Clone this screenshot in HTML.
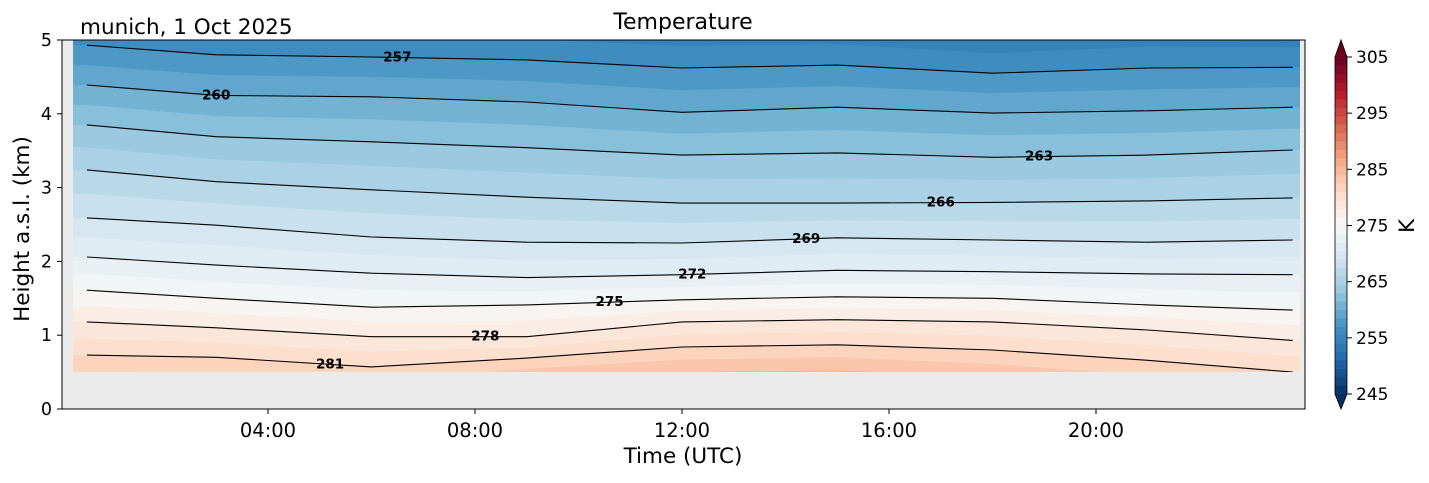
<!DOCTYPE html>
<html><head><meta charset="utf-8"><style>
body{margin:0;background:#fff;}
svg text{font-family:"DejaVu Sans","Liberation Sans",sans-serif;}
</style></head><body>
<svg id="chart" width="1429" height="478" xmlns="http://www.w3.org/2000/svg">
<defs><clipPath id="dclip"><rect x="73" y="40" width="1227" height="332"/></clipPath></defs>
<rect x="62" y="40" width="1243" height="369" fill="#ebebeb"/>
<g id="fills" clip-path="url(#dclip)"></g>
<g id="lines" clip-path="url(#dclip)"></g>
<g id="clabels"></g>
<rect x="62" y="40" width="1243" height="369" fill="none" stroke="#000" stroke-width="1"/>
<g id="axes"></g>
<text x="683" y="29" font-size="22" text-anchor="middle">Temperature</text>
<text x="80" y="34" font-size="21.5">munich, 1 Oct 2025</text>
<text x="683" y="463" font-size="21.5" text-anchor="middle">Time (UTC)</text>
<text x="0" y="0" font-size="21.5" text-anchor="middle" transform="translate(29,229) rotate(-90)">Height a.s.l. (km)</text>
<g id="cbar"></g>
<text x="0" y="0" font-size="21.5" text-anchor="middle" transform="translate(1414,226) rotate(-90)">K</text>
</svg>
<script>
const times=[0.5,3,6,9,12,15,18,21,23.8];
const levels=[257,260,263,266,269,272,275,278,281];
const h257=[4.93,4.80,4.77,4.73,4.62,4.66,4.55,4.62,4.63];
const h260=[4.39,4.25,4.23,4.16,4.02,4.09,4.01,4.04,4.09];
const h263=[3.85,3.69,3.62,3.54,3.44,3.47,3.41,3.44,3.51];
const h266=[3.24,3.08,2.97,2.87,2.79,2.79,2.80,2.82,2.86];
const h269=[2.59,2.49,2.33,2.26,2.25,2.32,2.29,2.26,2.29];
const h272=[2.06,1.95,1.84,1.78,1.82,1.88,1.86,1.83,1.82];
const h275=[1.61,1.50,1.38,1.41,1.48,1.52,1.50,1.41,1.34];
const h278=[1.18,1.10,0.98,0.98,1.18,1.21,1.18,1.07,0.93];
const h281=[0.73,0.70,0.57,0.69,0.84,0.87,0.80,0.66,0.50];
const labelLevels=[257,260,263,266,269,272,275,278,281];
const labelTimes=[6.5,3.0,18.9,17.0,14.4,12.2,10.6,8.2,5.2];
const xTicks=[4,8,12,16,20];
const xTickLabels=["04:00","08:00","12:00","16:00","20:00"];
const yTicks=[0,1,2,3,4,5];
const cbTicks=[245,255,265,275,285,295,305];

const heights=[h257,h260,h263,h266,h269,h272,h275,h278,h281];
const X=t=>61+t*(1242/24);
const Y=k=>409-k*73.8;
const CB=v=>394-(v-245)*(337/60);
const NS="http://www.w3.org/2000/svg";
function mk(tag,attrs,parent){const e=document.createElementNS(NS,tag);for(const k in attrs)e.setAttribute(k,attrs[k]);parent.appendChild(e);return e;}
const anchors=["#053061","#2166ac","#4393c3","#92c5de","#d1e5f0","#f7f7f7","#fddbc7","#f4a582","#d6604d","#b2182b","#67001f"];
function hex(h){return [1,3,5].map(i=>parseInt(h.substr(i,2),16));}
function cmap(v){const u=Math.max(0,Math.min(1,(v-245)/60))*10;const i=Math.min(9,Math.floor(u));const f=u-i;const a=hex(anchors[i]),b=hex(anchors[i+1]);return "rgb("+a.map((c,j)=>Math.round(c+(b[j]-c)*f)).join(",")+")";}
function hAt(L,j){
  const n=levels.length;
  if(L<=levels[0]){const d=heights[0][j]-heights[1][j];return heights[0][j]+(levels[0]-L)/3*d;}
  if(L>=levels[n-1]){const d=heights[n-2][j]-heights[n-1][j];return heights[n-1][j]-(L-levels[n-1])/3*d;}
  for(let i=0;i<n-1;i++){if(L>=levels[i]&&L<=levels[i+1]){const f=(L-levels[i])/3;return heights[i][j]+(heights[i+1][j]-heights[i][j])*f;}}
}
const fills=document.getElementById('fills');
const step=1.5;
let base=mk('rect',{x:73,y:40,width:1227,height:332,fill:cmap(290)},fills);


for(let L=288.5;L>=246;L-=step){
  let pts=[];
  for(let j=0;j<times.length;j++)pts.push([X(times[j]),Y(hAt(L,j))]);
  pts.unshift([X(0),pts[0][1]]);pts.push([X(24.5),pts[pts.length-1][1]]);
  let d="M"+pts.map(p=>p[0].toFixed(1)+","+p[1].toFixed(1)).join(" L")+" L"+X(24.5)+",0 L"+X(0)+",0 Z";
  const p=mk('path',{d:d,fill:cmap(L-step/2)},fills);
  
  
}
const lines=document.getElementById('lines');
const labs=document.getElementById('clabels');
for(let i=0;i<levels.length;i++){
  const d="M"+times.map((t,j)=>X(t).toFixed(1)+","+Y(heights[i][j]).toFixed(1)).join(" L");
  const p=mk('path',{d:d,fill:"none",stroke:"#000","stroke-width":1.1},lines);
  
  
}
function hInterp(i,t){for(let j=0;j<times.length-1;j++){if(t>=times[j]&&t<=times[j+1]){const f=(t-times[j])/(times[j+1]-times[j]);return heights[i][j]+(heights[i][j+1]-heights[i][j])*f;}}return heights[i][0];}
for(let k=0;k<labelLevels.length;k++){
  const i=levels.indexOf(labelLevels[k]);
  const x=X(labelTimes[k]),y=Y(hInterp(i,labelTimes[k]));
  const t=mk('text',{x:x,y:y+4,"font-size":13.5,"font-weight":"bold","text-anchor":"middle"},labs);
  t.textContent=labelLevels[k];
  
  
}
const axes=document.getElementById('axes');
xTicks.forEach((v,i)=>{
  const l=mk('line',{x1:X(v),x2:X(v),y1:409,y2:414,stroke:"#000"},axes);
  
  
  const t=mk('text',{x:X(v),y:437,"font-size":19.5,"text-anchor":"middle"},axes);
  t.textContent=xTickLabels[i];
  
  
});
yTicks.forEach(v=>{
  const l=mk('line',{x1:57,x2:62,y1:Y(v),y2:Y(v),stroke:"#000"},axes);
  
  
  const t=mk('text',{x:52,y:Y(v)+6,"font-size":17.5,"text-anchor":"end"},axes);
  t.textContent=v;
  
  
});
const cb=document.getElementById('cbar');
for(let v=245;v<305;v+=step){
  const r=mk('rect',{x:1335,y:CB(v+step)-0.3,width:12,height:(step*337/60)+0.6,fill:cmap(v+step/2)},cb);
  
  
}
mk('polygon',{points:"1335,57 1347,57 1341,40",fill:cmap(306)},cb);
mk('polygon',{points:"1335,394 1347,394 1341,409",fill:cmap(244)},cb);
mk('polygon',{points:"1335,57 1341,40 1347,57 1347,394 1341,409 1335,394",fill:"none",stroke:"#000","stroke-width":0.8},cb);
cbTicks.forEach(v=>{
  const l=mk('line',{x1:1347,x2:1352,y1:CB(v),y2:CB(v),stroke:"#000"},cb);
  
  
  const t=mk('text',{x:1356,y:CB(v)+6,"font-size":17},cb);
  t.textContent=v;
  
  
});
</script>
</body></html>
